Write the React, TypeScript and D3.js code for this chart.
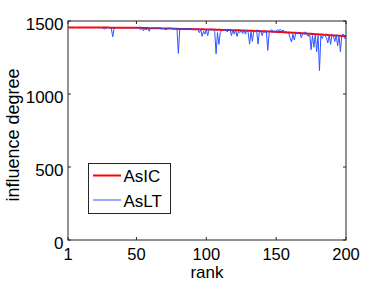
import React from "react";
import * as d3 from "d3";

const ranks: number[] = d3.range(1, 201);

const asIC: number[] = [
  1455,1455,1455,1455,1455,1455,1455,1455,1455,1455,1455,1455,1455,1455,1455,1455,1455,1455,1455,1455,
  1455,1455,1455,1455,1455,1455,1455,1455,1455,1455,1454,1454,1454,1454,1454,1454,1454,1454,1454,1454,
  1454,1454,1454,1454,1454,1453,1453,1453,1453,1453,1453,1453,1453,1452,1452,1452,1452,1452,1451,1451,
  1451,1451,1451,1450,1450,1450,1450,1449,1449,1449,1449,1448,1448,1448,1448,1447,1447,1447,1447,1446,
  1446,1446,1446,1446,1445,1445,1445,1445,1445,1444,1444,1444,1444,1443,1443,1443,1443,1443,1442,1442,
  1442,1442,1441,1441,1441,1441,1440,1440,1440,1440,1439,1439,1439,1439,1438,1438,1438,1437,1437,1437,
  1437,1436,1436,1436,1435,1435,1435,1434,1434,1434,1433,1433,1433,1432,1432,1432,1431,1431,1430,1430,
  1430,1429,1429,1428,1428,1428,1427,1427,1426,1426,1425,1425,1424,1424,1423,1423,1422,1422,1421,1421,
  1420,1420,1419,1419,1418,1418,1417,1416,1416,1415,1415,1414,1413,1413,1412,1411,1411,1410,1409,1409,
  1408,1407,1407,1406,1405,1405,1404,1403,1403,1402,1401,1401,1400,1400,1399,1399,1398,1398,1397,1397,
];

const asLT: number[] = [
  1455,1456,1455,1454,1455,1456,1455,1455,1454,1455,1456,1455,1455,1454,1455,1455,1456,1455,1454,1455,
  1455,1456,1455,1454,1455,1452,1446,1448,1454,1455,1453,1450,1392,1449,1454,1455,1456,1454,1455,1455,
  1454,1455,1453,1455,1454,1453,1455,1454,1453,1452,1454,1448,1440,1452,1432,1450,1438,1452,1430,1448,
  1452,1453,1451,1452,1450,1451,1452,1450,1448,1451,1438,1449,1450,1448,1452,1447,1449,1446,1448,1278,
  1447,1448,1446,1449,1446,1447,1448,1444,1447,1445,1446,1443,1446,1440,1420,1440,1395,1430,1410,1440,
  1400,1440,1445,1438,1440,1430,1276,1420,1340,1420,1440,1445,1435,1440,1425,1440,1442,1400,1438,1410,
  1440,1395,1430,1420,1438,1415,1435,1410,1440,1420,1342,1430,1360,1432,1425,1440,1342,1430,1435,1400,
  1430,1420,1432,1299,1420,1435,1440,1430,1420,1432,1440,1435,1442,1430,1438,1425,1430,1420,1415,1385,
  1356,1410,1370,1415,1425,1410,1420,1385,1415,1420,1425,1405,1395,1415,1303,1400,1320,1410,1290,1400,
  1160,1400,1380,1410,1400,1385,1350,1405,1340,1410,1395,1360,1405,1330,1400,1290,1404,1410,1381,1385,
];

const xTicks: number[] = [1, 50, 100, 150, 200];
const yTicks: number[] = [0, 500, 1000, 1500];

const W = 382, H = 282;
const L = 68, R = 346, T = 21, B = 240;

export default function App() {
  const x = d3.scaleLinear().domain([1, 200]).range([L, R]);
  const y = d3.scaleLinear().domain([0, 1500]).range([B, T]);
  const line = d3.line<number>().x((_, i) => x(ranks[i])).y((d) => y(d));
  const font = "'Liberation Sans', Arial, sans-serif";
  const tl = 3;
  return (
    <div style={{ position: "absolute", left: 0, top: 0 }}>
      <svg width={W} height={H} style={{ display: "block", background: "#fff" }}>
        <rect x={0} y={0} width={W} height={H} fill="#fff" />
        <path d={line(asIC) || ""} fill="none" stroke="#ff0000" strokeWidth={2} />
        <path d={line(asLT) || ""} fill="none" stroke="#2f52ff" strokeWidth={1} strokeLinejoin="round" />
        <rect x={L} y={T} width={R - L} height={B - T} fill="none" stroke="#262626" strokeWidth={1} />
        {xTicks.map((t) => (
          <g key={"x" + t}>
            <line x1={x(t)} x2={x(t)} y1={B} y2={B - tl} stroke="#262626" />
            <line x1={x(t)} x2={x(t)} y1={T} y2={T + tl} stroke="#262626" />
            <text x={x(t)} y={260} textAnchor="middle" fontFamily={font} fontSize={16.5} fill="#000">{t}</text>
          </g>
        ))}
        {yTicks.map((t) => (
          <g key={"y" + t}>
            <line x1={L} x2={L + tl} y1={y(t)} y2={y(t)} stroke="#262626" />
            <line x1={R} x2={R - tl} y1={y(t)} y2={y(t)} stroke="#262626" />
            <text x={63.5} y={y(t) + 8.5} textAnchor="end" fontFamily={font} fontSize={17} fill="#000">{t}</text>
          </g>
        ))}
        <text x={(L + R) / 2} y={277.5} textAnchor="middle" fontFamily={font} fontSize={17} fill="#000">rank</text>
        <text transform={`translate(19,135) rotate(-90)`} textAnchor="middle" fontFamily={font} fontSize={18} fill="#000">influence degree</text>
        <g>
          <rect x={88.5} y={163.5} width={82} height={50} fill="#fff" stroke="#262626" strokeWidth={1} />
          <line x1={93} x2={121} y1={175.5} y2={175.5} stroke="#ff0000" strokeWidth={2} />
          <text x={123.5} y={182} fontFamily={font} fontSize={17} fill="#000">AsIC</text>
          <line x1={93} x2={121} y1={200} y2={200} stroke="#2f52ff" strokeWidth={1} />
          <text x={123.5} y={206.5} fontFamily={font} fontSize={17} fill="#000">AsLT</text>
        </g>
      </svg>
    </div>
  );
}
